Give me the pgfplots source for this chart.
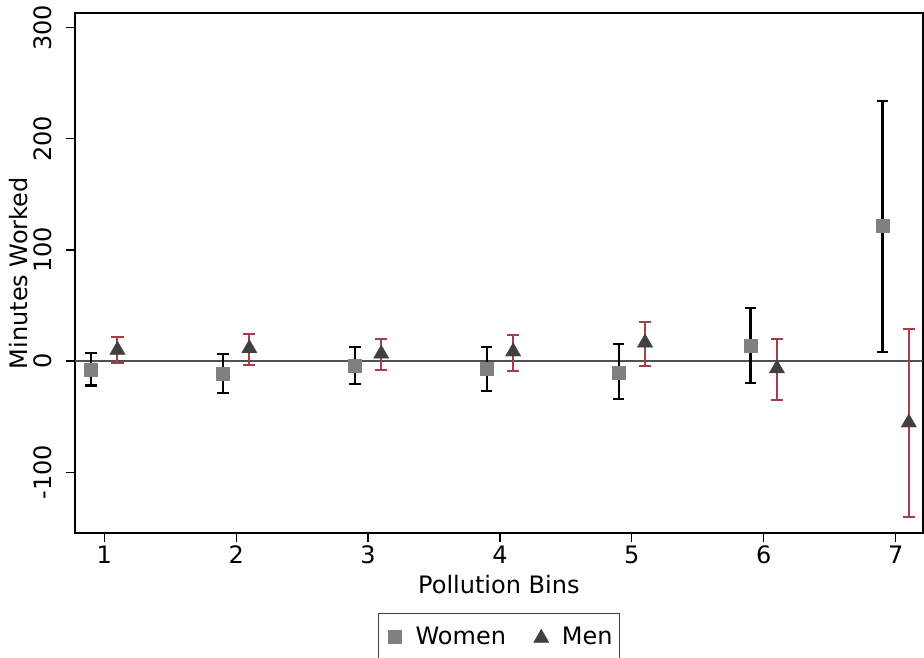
\documentclass[border=0pt]{standalone}
\usepackage{fontspec}
\setmainfont{DejaVu Sans}
\usepackage{pgfplots}
\usepackage{pgfplotstable}
\pgfplotsset{compat=1.18}

\definecolor{cired}{RGB}{165,62,74}
\definecolor{womengray}{RGB}{128,128,128}
\definecolor{mendark}{RGB}{64,64,64}
\definecolor{zerogray}{RGB}{80,80,80}

\pgfplotsset{
  womenimg/.style={legend image code/.code={\path (0pt,0pt) (27pt,0pt);
    \draw[##1] plot coordinates {(11.6pt,0pt)};}},
  menimg/.style={legend image code/.code={\path (0pt,0pt) (41pt,0pt);
    \draw[##1] plot coordinates {(26pt,-1pt)};}},
}

% x  estimate  upper-error  lower-error
\pgfplotstableread{
x   y      ep     em
0.9 -7.5   14.7   14.5
1.9 -11.7  17.7   17.3
2.9 -4.2   17.2   16.8
3.9 -7.2   20.2   19.5
4.9 -10.2  25.2   24.3
5.9 14.0   34.0   33.5
6.9 121.6  112.4  113.6
}\women

\pgfplotstableread{
x   y      ep     em
1.1 10.0   12.0   12.0
2.1 11.4   12.9   14.7
3.1 6.5    13.5   14.5
4.1 8.5    15.0   17.2
5.1 16.5   19.0   20.7
6.1 -6.7   26.2   28.3
7.1 -55.4  84.4   84.6
}\men

\begin{document}
\begin{tikzpicture}[font=\fontsize{18}{21}\selectfont]
\begin{axis}[
  name=ax,
  scale only axis,
  width=635.8pt, height=389.8pt,
  xmin=0.778, xmax=7.205,
  ymin=-154.8, ymax=313,
  xtick={1,2,3,4,5,6,7},
  xticklabels={1,2,3,4,5,6,7},
  ytick={-100,0,100,200,300},
  yticklabels={-100,0,100,200,300},
  tick pos=left,
  tick align=outside,
  major tick length=6.75pt,
  tick style={black, line width=0.9pt},
  axis line style={black, line width=1.3pt},
  yticklabel style={rotate=90, anchor=base, inner sep=0pt},
  xticklabel style={anchor=north, inner sep=0pt},
  yticklabel shift=11pt,
  xticklabel shift=2.5pt,
  xlabel={Pollution Bins},
  ylabel={Minutes Worked},
  xlabel style={at={(axis description cs:0.5,-0.1154)}, anchor=base, inner sep=0pt},
  ylabel style={at={(axis description cs:-0.0566,0.5)}, anchor=base, inner sep=0pt},
  legend style={at={(0.5,-0.1539)}, anchor=north, legend columns=2,
    draw=darkgray, line width=0.9pt, font=\fontsize{18}{21}\selectfont,
    inner xsep=0pt, inner ysep=10pt, nodes={inner sep=0pt}},
]
\addplot[forget plot, zerogray, line width=1.4pt] coordinates {(0.778,0) (7.205,0)};

\addplot[only marks, mark=square*, mark size=4.9pt,
  mark options={fill=womengray, draw=womengray, line width=0.3pt},
  womenimg,
  error bars/.cd, y dir=both, y explicit,
  error bar style={black, line width=1.6pt},
  error mark options={black, mark size=4.3pt, line width=1.6pt, rotate=90}]
  table[x=x, y=y, y error plus=ep, y error minus=em] {\women};
\addlegendentry{Women}

\addplot[only marks, mark=triangle*, mark size=6.6pt,
  mark options={fill=mendark, draw=mendark, line width=0.3pt},
  menimg,
  error bars/.cd, y dir=both, y explicit,
  error bar style={cired, line width=1.5pt},
  error mark options={cired, mark size=4.6pt, line width=1.5pt, rotate=90}]
  table[x=x, y=y, y error plus=ep, y error minus=em] {\men};
\addlegendentry{Men\rule{5pt}{0pt}}
\end{axis}
\pgfresetboundingbox
\path[use as bounding box] ([xshift=-56.25pt,yshift=-93pt]ax.south west)
  rectangle ([xshift=1pt,yshift=10pt]ax.north east);
\end{tikzpicture}
\end{document}
